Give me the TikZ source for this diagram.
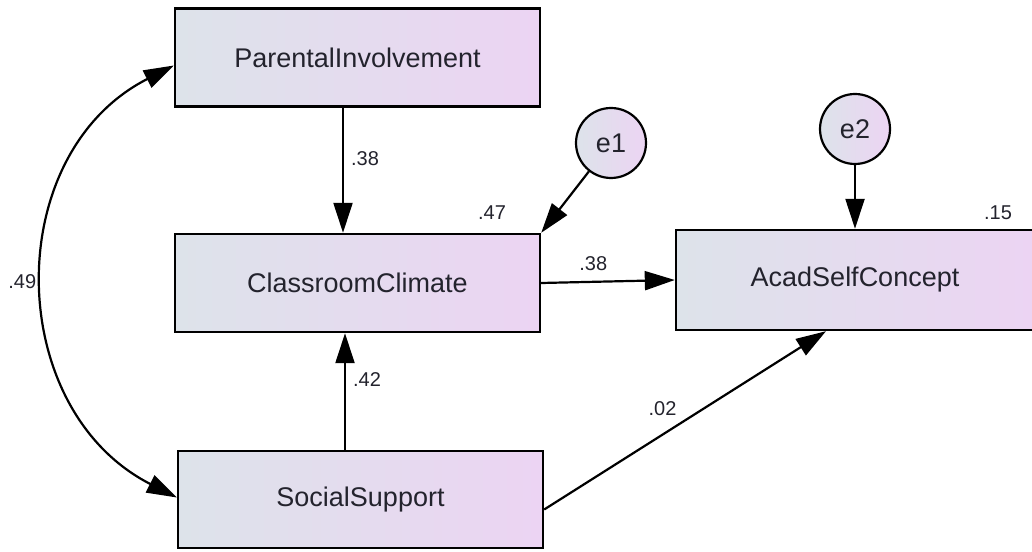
\documentclass[tikz,border=0pt]{standalone}
\usepackage{fontspec}
\setmainfont{Liberation Sans}
\usetikzlibrary{arrows.meta}
\definecolor{boxleft}{RGB}{221,227,234}
\definecolor{boxright}{RGB}{236,212,243}
\definecolor{txtgray}{RGB}{35,35,45}
\tikzset{
  var/.style={draw=black, line width=2.4pt, left color=boxleft, right color=boxright,
    minimum width=365pt, minimum height=98pt, inner sep=0pt,
    font=\fontsize{27}{32}\selectfont, text=txtgray},
  err/.style={circle, draw=black, line width=2.2pt, left color=boxleft, right color=boxright,
    minimum size=70pt, inner sep=0pt, font=\fontsize{27}{32}\selectfont, text=txtgray},
  reg/.style={line width=2.2pt, -{Triangle[length=30pt,width=19pt]}},
  cov/.style={line width=2.2pt, {Triangle[length=30pt,width=19pt]}-{Triangle[length=30pt,width=19pt]}},
  coef/.style={font=\fontsize{20}{23}\selectfont, text=txtgray, inner sep=0pt}
}
\begin{document}
\begin{tikzpicture}[x=1pt, y=1pt]
  \useasboundingbox (0,0) rectangle (1032,551);
  % observed variables
  \node[var] (parent) at (357.5,493.5) {ParentalInvolvement};
  \node[var] (climate) at (357.5,268) {ClassroomClimate};
  \node[var, minimum height=97pt] (social) at (360.5,51.5) {SocialSupport};
  \node[var, minimum width=358pt, minimum height=100pt] (acad) at (855,271) {AcadSelfConcept};
  % error terms
  \node[err] (e1) at (611,408) {e1};
  \node[err] (e2) at (855,422) {e2};
  % squared multiple correlations
  \node[coef] (r2climate) at (492,338) {.47};
  \node[coef] (r2acad) at (998,338) {.15};
  % paths
  \draw[reg] ([xshift=-14.5pt]parent.south) -- node[coef, pos=0.41, right=7pt] {.38} ([xshift=-14.5pt]climate.north);
  \draw[reg] ([xshift=-15.5pt]social.north) -- node[coef, pos=0.6, right=7pt] {.42} ([xshift=-12.5pt]climate.south);
  \draw[reg] (climate.east) -- node[coef, pos=0.39, above=10pt] {.38} (acad.west);
  \draw[reg] ([yshift=-10pt]social.east) -- node[coef, pos=0.42, above=18pt] {.02} ([xshift=-29pt]acad.south);
  \draw[reg] (e1) -- (climate.north east);
  \draw[reg] (e2) -- (acad.north);
  % covariance
  \draw[cov] ([yshift=-8pt]parent.west) to[out=207, in=153, looseness=1.15] node[coef, left=8pt] {.49} ([yshift=2pt]social.west);
\end{tikzpicture}
\end{document}
